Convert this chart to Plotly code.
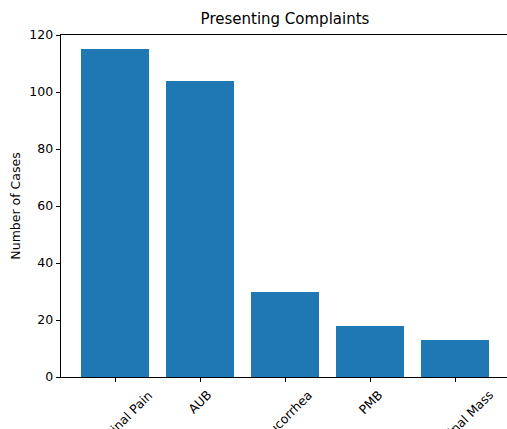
import plotly.graph_objects as go

categories = ["Abdominal Pain", "AUB", "Leucorrhea", "PMB", "Abdominal Mass"]
cases = [115, 104, 30, 18, 13]
y_ticks = [0, 20, 40, 60, 80, 100, 120]

FONT = "DejaVu Sans"
fig = go.Figure()
fig.add_trace(go.Bar(x=categories, y=cases, width=0.8, marker=dict(color="#1f77b4", line=dict(width=0))))

plot_h = 429 - 35 - 52
for c in categories:
    fig.add_annotation(x=c, xref="x", y=-9 / plot_h, yref="paper", text=c, textangle=-45,
                       showarrow=False, xanchor="center", yanchor="top",
                       font=dict(family=FONT, size=12.5, color="#000000"), borderpad=0)

fig.update_layout(
    width=507, height=429,
    margin=dict(l=61, r=0, t=35, b=52),
    paper_bgcolor="white", plot_bgcolor="white",
    font=dict(family=FONT, size=12.5, color="#000000"),
    title=dict(text="Presenting Complaints", x=(61 + 509) / 2 / 507, xanchor="center",
               y=1 - 19 / 429, yanchor="middle", font=dict(size=15, family=FONT)),
    showlegend=False,
    bargap=0,
)
fig.update_xaxes(range=[-0.64, 4.612], showgrid=False, zeroline=False, showticklabels=False,
                 ticks="outside", ticklen=4.4, tickwidth=1, tickcolor="#000000",
                 showline=True, linecolor="#000000", linewidth=1, mirror=True)
fig.update_yaxes(range=[0, 120], tickvals=y_ticks, showgrid=False, zeroline=False,
                 ticks="outside", ticklen=4.4, tickwidth=1, tickcolor="#000000",
                 showline=True, linecolor="#000000", linewidth=1,
                 title=dict(text="Number of Cases", standoff=5, font=dict(size=12.5)),
                 tickfont=dict(size=12.5))

fig.write_html("out.html", config={"displayModeBar": False},
               post_script="document.body.style.margin='0';document.body.style.overflow='hidden';")
